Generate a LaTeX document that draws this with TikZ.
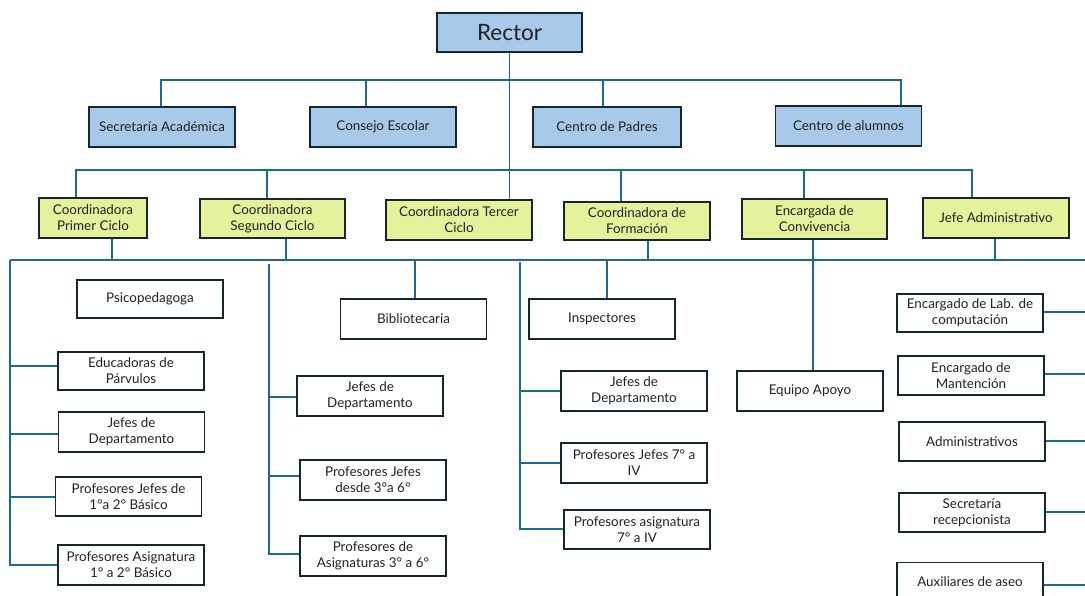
\documentclass[tikz,border=0pt]{standalone}
\usepackage{fontspec}
\setmainfont{Lato}
\definecolor{linec}{HTML}{1D6A8A}
\definecolor{bordc}{HTML}{14262F}
\definecolor{bluef}{HTML}{A8C9EA}
\definecolor{yelf}{HTML}{E5F19B}
\definecolor{txtc}{HTML}{222222}
\begin{document}
\begin{tikzpicture}[x=1pt,y=-1pt,
  box/.style={draw=bordc, line width=1.8pt, fill=white, align=center, inner sep=0pt,
    text=txtc, font=\fontsize{13.4}{16}\selectfont, minimum width=146pt, minimum height=40pt},
  bluebox/.style={box, fill=bluef},
  yelbox/.style={box, fill=yelf},
  conn/.style={draw=linec, line width=1.8pt}]
\useasboundingbox (0,0) rectangle (1085,596);
% top
\node[bluebox, minimum width=145pt, minimum height=39pt, font=\fontsize{22.5}{26}\selectfont] (rector) at (509.5,32.5) {Rector};
\node[bluebox] (sec) at (162,127) {Secretaría Académica};
\node[bluebox] (con) at (383,127) {Consejo Escolar};
\node[bluebox, minimum width=148pt] (pad) at (607,127) {Centro de Padres};
\node[bluebox] (alu) at (848.5,126) {Centro de alumnos};
% coordinators
\node[yelbox, minimum width=108pt] (c1) at (93,218) {Coordinadora\\Primer Ciclo};
\node[yelbox, minimum width=145pt, minimum height=39pt] (c2) at (272.5,218.5) {Coordinadora\\Segundo Ciclo};
\node[yelbox] (c3) at (459,220) {Coordinadora Tercer\\Ciclo};
\node[yelbox, minimum height=38pt] (c4) at (637,221) {Coordinadora de\\Formación};
\node[yelbox, minimum width=145pt] (c5) at (814.5,219) {Encargada de\\Convivencia};
\node[yelbox] (c6) at (996,218) {Jefe Administrativo};
% column 1
\node[box, minimum height=38pt] (psi) at (150,299) {Psicopedagoga};
\node[box, minimum height=38pt] (edu) at (131,371) {Educadoras de\\Párvulos};
\node[box] (jd1) at (131.5,432) {Jefes de\\Departamento};
\node[box, minimum height=39pt] (pj1) at (128.5,496.5) {Profesores Jefes de\\1°a 2° Básico};
\node[box] (pa1) at (131,565) {Profesores Asignatura\\1° a 2° Básico};
% column 2
\node[box] (bib) at (413.5,319) {Bibliotecaria};
\node[box] (jd2) at (370,396) {Jefes de\\Departamento};
\node[box] (pj2) at (373,480) {Profesores Jefes\\desde 3°a 6°};
\node[box] (pa2) at (373,556) {Profesores de\\Asignaturas 3° a 6°};
% column 3
\node[box] (ins) at (602,319) {Inspectores};
\node[box] (jd3) at (634,391) {Jefes de\\Departamento};
\node[box] (pj3) at (634,463) {Profesores Jefes 7° a\\IV};
\node[box, minimum height=39pt] (pa3) at (637,529.5) {Profesores asignatura\\7° a IV};
% column 4
\node[box] (apo) at (810,391) {Equipo Apoyo};
\node[box, minimum height=38pt] (lab) at (970,313) {Encargado de Lab. de\\computación};
\node[box, minimum height=39pt] (man) at (971,375.5) {Encargado de\\Mantención};
\node[box, minimum height=39pt] (adm) at (972,441.5) {Administrativos};
\node[box, minimum height=39pt] (rec) at (972,512.5) {Secretaría\\recepcionista};
\node[box, minimum height=39pt] (aux) at (970,582) {Auxiliares de aseo};
% bus 1
\coordinate (b1L) at (161,80);
\coordinate (b1R) at (901,80);
\coordinate (d1a) at (366,80);
\coordinate (d1b) at (603,80);
\draw[conn] (b1L |- sec.north) -- (b1L) -- (b1R) -- (b1R |- alu.north);
\draw[conn] (d1a) -- (d1a |- con.north);
\draw[conn] (d1b) -- (d1b |- pad.north);
\draw[conn, line width=1.4pt] (rector.south) -- (rector.south |- c3.north);
% bus 2
\coordinate (b2L) at (76,170);
\coordinate (b2R) at (972,170);
\coordinate (d2a) at (267,170);
\coordinate (d2b) at (621,170);
\coordinate (d2c) at (804,170);
\draw[conn] (b2L |- c1.north) -- (b2L) -- (b2R) -- (b2R |- c6.north);
\draw[conn] (d2a) -- (d2a |- c2.north);
\draw[conn] (d2b) -- (d2b |- c4.north);
\draw[conn] (d2c) -- (d2c |- c5.north);
% bus 3
\coordinate (b3L) at (10,260);
\coordinate (b3R) at (1085,260);
\draw[conn] (b3L) -- (b3R);
\coordinate (u1) at (112,260);
\coordinate (u2) at (286,260);
\coordinate (u4) at (648,260);
\coordinate (u5) at (813,260);
\coordinate (u6) at (995,260);
\draw[conn] (u1) -- (u1 |- c1.south);
\draw[conn] (u2) -- (u2 |- c2.south);
\draw[conn] (u4) -- (u4 |- c4.south);
\draw[conn] (u6) -- (u6 |- c6.south);
\draw[conn] (c5.south -| u5) -- (u5 |- apo.north);
% left column
\coordinate (l1) at (10,366);
\coordinate (l2) at (10,434);
\coordinate (l3) at (10,497);
\coordinate (l4) at (10,565);
\draw[conn] (b3L) -- (l4) -- (l4 -| pa1.west);
\draw[conn] (l1) -- (l1 -| edu.west);
\draw[conn] (l2) -- (l2 -| jd1.west);
\draw[conn] (l3) -- (l3 -| pj1.west);
% column 2
\coordinate (m0) at (269,264);
\coordinate (m1) at (269,397);
\coordinate (m2) at (269,476);
\coordinate (m3) at (269,554);
\draw[conn] (m0) -- (m3) -- (m3 -| pa2.west);
\draw[conn] (m1) -- (m1 -| jd2.west);
\draw[conn] (m2) -- (m2 -| pj2.west);
\coordinate (db) at (415,260);
\draw[conn] (db) -- (db |- bib.north);
% column 3
\coordinate (n0) at (520,262);
\coordinate (n1) at (520,391);
\coordinate (n2) at (520,463);
\coordinate (n3) at (520,529);
\draw[conn] (n0) -- (n3) -- (n3 -| pa3.west);
\draw[conn] (n1) -- (n1 -| jd3.west);
\draw[conn] (n2) -- (n2 -| pj3.west);
\coordinate (di) at (607,260);
\draw[conn] (di) -- (di |- ins.north);
% right column
\coordinate (r1) at (1085,312);
\coordinate (r2) at (1085,374);
\coordinate (r3) at (1085,441);
\coordinate (r4) at (1085,512);
\coordinate (r5) at (1085,585);
\draw[conn] (lab.east |- r1) -- (r1);
\draw[conn] (man.east |- r2) -- (r2);
\draw[conn, line width=2.4pt] (adm.east |- r3) -- (r3);
\draw[conn] (rec.east |- r4) -- (r4);
\draw[conn] (aux.east |- r5) -- (r5);
\end{tikzpicture}
\end{document}
